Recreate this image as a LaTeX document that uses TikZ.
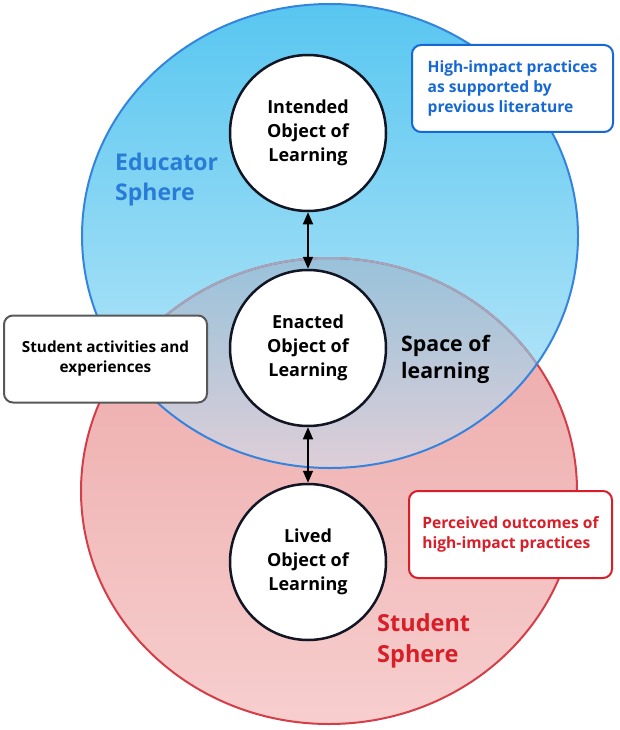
\documentclass[tikz,border=0pt]{standalone}
\usepackage{fontspec}
\setmainfont{Open Sans}
\usepackage{xcolor}
\usetikzlibrary{arrows.meta,positioning}

\definecolor{blueTop}{RGB}{88,198,240}
\definecolor{blueBot}{RGB}{196,234,249}
\definecolor{redTop}{RGB}{236,166,166}
\definecolor{redBot}{RGB}{247,206,206}
\definecolor{mixTop}{RGB}{152,194,218}
\definecolor{mixBot}{RGB}{222,206,216}
\definecolor{blueLine}{RGB}{52,132,222}
\definecolor{redLine}{RGB}{212,62,72}
\definecolor{mixLine}{RGB}{160,168,192}
\definecolor{eduText}{RGB}{40,124,214}
\definecolor{noteBlue}{RGB}{22,104,212}
\definecolor{noteRed}{RGB}{216,30,40}
\definecolor{noteGray}{RGB}{88,88,88}
\definecolor{objLine}{RGB}{18,22,36}

\tikzset{
  objnode/.style={circle, draw=objLine, line width=2.5pt, fill=white,
    minimum size=156, inner sep=0pt, align=center,
    font=\fontsize{18}{24}\selectfont\bfseries},
  notebox/.style={rounded corners=9pt, line width=2pt, fill=white,
    minimum width=203, minimum height=87, inner sep=0pt,
    font=\fontsize{15.6}{20}\selectfont\bfseries},
  spherelabel/.style={anchor=west, align=left, inner sep=0pt},
  biarrow/.style={line width=1.6pt,
    {Triangle[length=12pt,width=10pt]}-{Triangle[length=12pt,width=10pt]}}
}

\begin{document}
\begin{tikzpicture}[x=1pt,y=-1pt]
  \useasboundingbox (0,0) rectangle (619,730);
  % the two spheres
  \def\eduSphere{(330,236) ellipse [x radius=248, y radius=232]}
  \def\stuSphere{(329,491) ellipse [x radius=248, y radius=233]}
  \shade[top color=redTop, bottom color=redBot] \stuSphere;
  \shade[top color=blueTop, bottom color=blueBot] \eduSphere;
  % overlap = space of learning
  \begin{scope}
    \clip \stuSphere;
    \clip \eduSphere;
    \shade[top color=mixTop, bottom color=mixBot] (80,257) rectangle (580,469);
  \end{scope}
  \draw[redLine, line width=2pt] \stuSphere;
  \begin{scope}
    \clip \eduSphere;
    \draw[mixLine, line width=2pt] \stuSphere;
  \end{scope}
  \draw[blueLine, line width=2pt] \eduSphere;

  % objects of learning
  \node[objnode] (intended) at (308,133) {Intended\\Object of\\Learning};
  \node[objnode] (enacted)  at (308,348) {Enacted\\Object of\\Learning};
  \node[objnode] (lived)    at (308,562) {Lived\\Object of\\Learning};
  \draw[biarrow] (intended) -- (enacted);
  \draw[biarrow] (enacted) -- (lived);

  % sphere labels
  \node[spherelabel, text=eduText, font=\fontsize{23}{30}\selectfont\bfseries]
    (edulabel) at (115,180) {Educator\\Sphere};
  \node[spherelabel, font=\fontsize{21.3}{27}\selectfont\bfseries]
    (spacelabel) at (401,359) {Space of\\learning};
  \node[spherelabel, text=noteRed, font=\fontsize{23.5}{31}\selectfont\bfseries]
    (stulabel) at (377,641) {Student\\Sphere};

  % notes
  \node[notebox, draw=noteBlue, text=noteBlue, minimum width=201, align=left]
    (hipnote) at (512.5,88.5)
    {High-impact practices\\as supported by\\previous literature};
  \node[notebox, draw=noteGray, align=center,
    font=\fontsize{15.3}{20}\selectfont\bfseries]
    (actnote) at (105.5,359) {Student activities and\\experiences};
  \node[notebox, draw=noteRed, text=noteRed, align=left]
    (outnote) at (510.5,534.5)
    {Perceived outcomes of\\high-impact practices};
\end{tikzpicture}
\end{document}
